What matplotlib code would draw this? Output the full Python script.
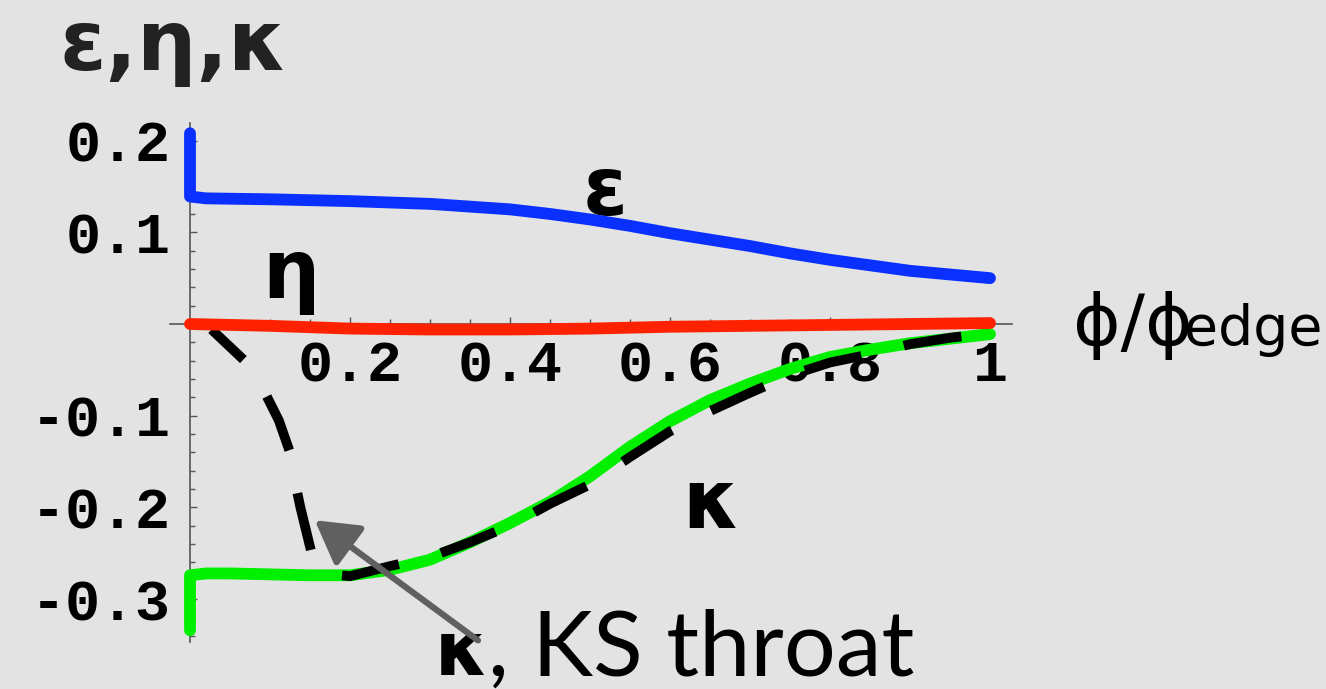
import numpy as np
import matplotlib.pyplot as plt
from matplotlib.ticker import FixedLocator

# epsilon (blue)
phi_eps = [0.0, 0.0, 0.02, 0.1, 0.2, 0.3, 0.35, 0.4, 0.45, 0.5, 0.55, 0.6, 0.65, 0.7,
           0.75, 0.8, 0.85, 0.9, 0.95, 1.0]
eps = [0.208, 0.139, 0.137, 0.136, 0.134, 0.131, 0.128, 0.125, 0.120, 0.114, 0.107,
       0.099, 0.092, 0.085, 0.077, 0.070, 0.064, 0.058, 0.054, 0.050]

# eta (red)
phi_eta = [0.0, 0.1, 0.2, 0.3, 0.4, 0.5, 0.6, 0.7, 0.8, 0.9, 1.0]
eta = [0.0, -0.002, -0.005, -0.006, -0.006, -0.005, -0.003, -0.002, -0.001, 0.0, 0.001]

# kappa (green)
phi_kap = [0.0, 0.0, 0.02, 0.05, 0.1, 0.15, 0.2, 0.25, 0.3, 0.35, 0.4, 0.45, 0.5,
           0.55, 0.6, 0.65, 0.7, 0.75, 0.8, 0.85, 0.9, 0.95, 1.0]
kap = [-0.334, -0.274, -0.272, -0.272, -0.273, -0.274, -0.274, -0.268, -0.257, -0.238,
       -0.217, -0.194, -0.166, -0.134, -0.106, -0.083, -0.065, -0.049, -0.036, -0.028,
       -0.021, -0.016, -0.011]

# kappa, KS throat (black dashed)
phi_ks = [0.027, 0.067, 0.096, 0.111, 0.125, 0.132, 0.138, 0.152, 0.162, 0.178, 0.2,
          0.25, 0.3, 0.35, 0.4, 0.45, 0.5, 0.55, 0.6, 0.65, 0.7, 0.75, 0.8, 0.85, 0.9,
          0.95, 1.0]
kap_ks = [-0.006, -0.039, -0.079, -0.105, -0.140, -0.175, -0.200, -0.250, -0.265, -0.273,
          -0.275, -0.264, -0.254, -0.238, -0.220, -0.196, -0.175, -0.145, -0.117, -0.095,
          -0.075, -0.056, -0.042, -0.033, -0.022, -0.015, -0.010]

xticks = [0.2, 0.4, 0.6, 0.8, 1.0]
xticklabels = ['0.2', '0.4', '0.6', '0.8', '1']
yticks = [0.2, 0.1, -0.1, -0.2, -0.3]
yticklabels = ['0.2', '0.1', '-0.1', '-0.2', '-0.3']

bg = '#e3e3e3'
axis_col = '#555555'

fig = plt.figure(figsize=(13.26, 6.89), dpi=100, facecolor=bg)
ax = fig.add_axes([0, 0, 1, 1], facecolor=bg)
ax.set_xlim(-0.2375, 1.42)
ax.set_ylim(-0.398, 0.3533)

for s in ['top', 'right']:
    ax.spines[s].set_visible(False)
ax.spines['left'].set_position(('data', 0))
ax.spines['bottom'].set_position(('data', 0))
ax.spines['left'].set_bounds(-0.347, 0.219)
ax.spines['bottom'].set_bounds(-0.025, 1.0275)
for s in ['left', 'bottom']:
    ax.spines[s].set_color(axis_col)
    ax.spines[s].set_linewidth(1.2)

ax.xaxis.set_major_locator(FixedLocator(xticks))
ax.xaxis.set_minor_locator(FixedLocator(np.round(np.arange(0.05, 1.001, 0.05), 3)))
ax.yaxis.set_major_locator(FixedLocator(yticks))
ax.yaxis.set_minor_locator(FixedLocator(np.round(np.arange(-0.34, 0.201, 0.02), 3)))
ax.set_xticklabels(xticklabels)
ax.set_yticklabels(yticklabels)

tickfont = dict(family='Liberation Mono', weight='bold', size=42)
for lab in ax.get_xticklabels() + ax.get_yticklabels():
    lab.set_fontproperties(tickfont)
ax.tick_params(which='both', direction='in', color=axis_col, width=1.0, labelcolor='black')
ax.tick_params(which='major', length=5)
ax.tick_params(which='minor', length=3.5)
ax.tick_params(axis='x', which='major', pad=11)
ax.tick_params(axis='y', which='major', pad=14)

ax.plot(phi_kap, kap, color='#00f000', lw=8.5, solid_capstyle='round',
        solid_joinstyle='round', zorder=3)
ax.plot(phi_ks, kap_ks, color='black', lw=7, linestyle=(1.5, (6, 4.5)),
        dash_capstyle='butt', zorder=4)
ax.plot(phi_eta, eta, color='#ff2200', lw=8.5, solid_capstyle='round',
        solid_joinstyle='round', zorder=5)
ax.plot(phi_eps, eps, color='#0a30ff', lw=8.5, solid_capstyle='round',
        solid_joinstyle='round', zorder=5)

# labels
ax.text(-0.1625, 0.277, 'ε,η,κ', fontsize=60, fontweight='bold', color='#222222',
        ha='left', va='baseline', family='DejaVu Sans')
ax.text(0.519, 0.119, 'ε', fontsize=58, fontweight='bold', ha='center', va='baseline')
ax.text(0.126, 0.028, 'η', fontsize=58, fontweight='bold', ha='center', va='baseline')
ax.text(0.651, -0.2225, 'κ', fontsize=58, fontweight='bold', ha='center', va='baseline')

ax.text(1.104, -0.023, 'ϕ/ϕ', fontsize=52, ha='left', va='baseline', family='DejaVu Sans')
ax.text(1.243, -0.023, 'edge', fontsize=40, ha='left', va='baseline', family='DejaVu Sans')

ax.text(0.306, -0.383, 'κ', fontsize=54, fontweight='bold', ha='left', va='baseline',
        family='DejaVu Sans')
ax.text(0.372, -0.383, ', KS throat', fontsize=66, ha='left', va='baseline',
        family=['Lato', 'DejaVu Sans'])

ax.annotate('', xy=(0.156, -0.214), xytext=(0.36, -0.345),
            arrowprops=dict(arrowstyle='-|>,head_length=1.3,head_width=0.75',
                            mutation_scale=20, lw=4.5, color='#606060',
                            shrinkA=0, shrinkB=0),
            zorder=6)

fig.savefig('out.png', dpi=100, facecolor=bg)
